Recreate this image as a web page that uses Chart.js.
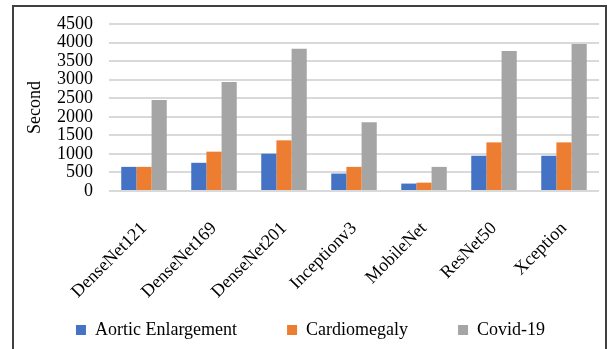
<!DOCTYPE html>
<html>
<head>
<meta charset="utf-8">
<script src="https://cdn.jsdelivr.net/npm/chart.js@4"></script>
<style>
  html, body { margin: 0; padding: 0; background: #fff; overflow: hidden; }
  #frame {
    position: absolute; left: 12px; top: 5px;
    width: 591px; height: 350px;
    border: 2px solid #404040; border-bottom: none;
  }
  #chart { display: block; }
</style>
</head>
<body>
<div id="frame"><canvas id="chart" width="591" height="342"></canvas></div>
<script>
// ---------------- Data ----------------
const models = ["DenseNet121", "DenseNet169", "DenseNet201", "Inceptionv3", "MobileNet", "ResNet50", "Xception"];
const aortic = [650, 760, 1005, 470, 200, 950, 950];
const cardio = [650, 1060, 1365, 650, 225, 1310, 1310];
const covid = [2455, 2935, 3830, 1850, 650, 3775, 3960];
const yTicks = [0, 500, 1000, 1500, 2000, 2500, 3000, 3500, 4000, 4500];

const serif = "'Liberation Serif', 'Times New Roman', serif";
const fontSize = 18;

// ---------------- Chart ----------------
const ctx = document.getElementById("chart");
new Chart(ctx, {
  type: "bar",
  data: {
    labels: models,
    datasets: [
      { label: "Aortic Enlargement", data: aortic, backgroundColor: "#4472C4" },
      { label: "Cardiomegaly", data: cardio, backgroundColor: "#ED7D31" },
      { label: "Covid-19", data: covid, backgroundColor: "#A5A5A5" },
    ],
  },
  options: {
    responsive: false,
    animation: false,
    datasets: { bar: { barPercentage: 1, categoryPercentage: 0.65 } },
    layout: { padding: { top: 17, right: 6, left: 8, bottom: 0 } },
    plugins: {
      tooltip: { enabled: false },
      legend: {
        position: "bottom",
        labels: {
          color: "#000",
          font: { family: serif, size: fontSize },
          boxWidth: 10,
          boxHeight: 10,
          padding: 50,
        },
      },
    },
    scales: {
      x: {
        grid: { display: false },
        border: { display: false },
        ticks: {
          color: "#000",
          font: { family: serif, size: fontSize },
          minRotation: 45,
          maxRotation: 45,
          autoSkip: false,
          padding: 19,
        },
        afterFit: s => { s.height = 80; },
        // rotated labels run down into the legend band, as in the original
        afterUpdate: s => { s._computeLabelArea = () => undefined; },
      },
      y: {
        min: 0,
        max: 4500,
        afterBuildTicks: s => { s.ticks = yTicks.map(v => ({ value: v })); },
        grid: {
          color: "#d9d9d9",
          lineWidth: 2,
          drawTicks: true,
          tickLength: 14,
          tickColor: "rgba(0,0,0,0)",
        },
        border: { display: false },
        ticks: {
          color: "#000",
          font: { family: serif, size: fontSize },
          autoSkip: false,
          padding: 2,
          callback: v => String(v),
        },
        title: {
          display: true,
          text: "Second",
          color: "#000",
          font: { family: serif, size: fontSize },
          padding: { top: 2, bottom: 4 },
        },
        afterFit: s => { s.width = 87; },
      },
    },
  },
});
</script>
</body>
</html>
